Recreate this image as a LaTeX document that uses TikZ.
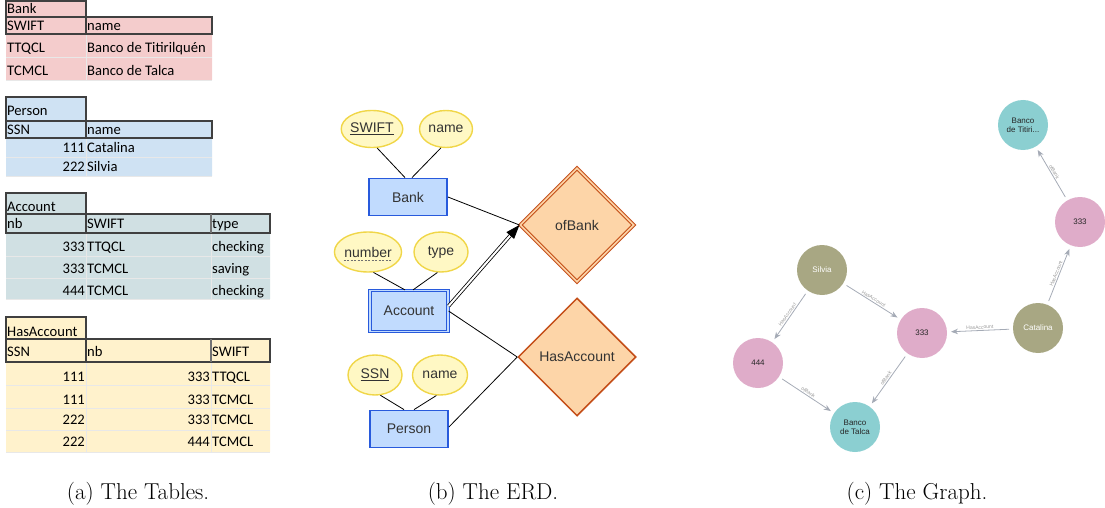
\documentclass[tikz,border=0pt]{standalone}
\usepackage{fontspec}
\usetikzlibrary{shapes.geometric,arrows.meta}
\newfontfamily\tabfont{Carlito}
\newfontfamily\erdfont{Liberation Sans}
\definecolor{bankfill}{RGB}{244,204,204}
\definecolor{personfill}{RGB}{207,226,243}
\definecolor{accfill}{RGB}{208,224,227}
\definecolor{hasfill}{RGB}{255,242,204}
\definecolor{ellfill}{RGB}{255,248,196}
\definecolor{elldraw}{RGB}{240,214,72}
\definecolor{entfill}{RGB}{193,219,254}
\definecolor{entdraw}{RGB}{40,90,220}
\definecolor{relfill}{RGB}{253,213,168}
\definecolor{reldraw}{RGB}{196,78,24}
\definecolor{darktext}{RGB}{51,51,51}
\definecolor{gteal}{RGB}{139,207,209}
\definecolor{gpink}{RGB}{223,172,201}
\definecolor{golive}{RGB}{168,167,131}
\definecolor{gedgecol}{RGB}{165,171,182}
\tikzset{
  tcell/.style={inner sep=0pt, text height=9.7pt, text depth=0pt, font=\tabfont\fontsize{14.6}{18}\selectfont},
  lcell/.style={tcell, anchor=west},
  rcell/.style={tcell, anchor=east},
  hdline/.style={draw=black!75, line width=1.2pt},
  gridline/.style={draw=white!82!gray, line width=0.8pt},
  attr/.style={ellipse, draw=elldraw, fill=ellfill, line width=1.4pt, inner sep=0pt, text=darktext, font=\erdfont\fontsize{14}{16}\selectfont},
  entity/.style={rectangle, draw=entdraw, fill=entfill, line width=1.8pt, minimum width=78pt, minimum height=37pt, text=darktext, font=\erdfont\fontsize{14}{16}\selectfont},
  rel/.style={diamond, draw=reldraw, fill=relfill, inner sep=0pt, text=darktext, font=\erdfont\fontsize{14}{16}\selectfont},
  erline/.style={line width=0.8pt},
  gnode/.style={circle, minimum size=50pt, inner sep=0pt, outer sep=4pt, align=center, text=black!85, font=\erdfont\fontsize{8}{9}\selectfont},
  gedge/.style={draw=gedgecol, line width=0.8pt, -{Stealth[length=7pt,width=5.5pt]}},
  glabel/.style={sloped, above, inner sep=1pt, text=gray!80, font=\erdfont\fontsize{5}{6}\selectfont},
  caption/.style={anchor=base, font=\fontsize{23}{27}\selectfont}
}
\begin{document}
\begin{tikzpicture}[x=1pt, y=-1pt]
  \useasboundingbox (0,0) rectangle (1105,508);

  \fill[bankfill] (6,1) rectangle (86,17) (6,17) rectangle (212,80);
  \draw[gridline] (6,57) -- (212,57) (6,80) -- (212,80) (86,34) -- (86,80);
  \draw[hdline] (6,17) -- (6,1) -- (86,1) -- (86,34) (6,17) rectangle (212,34);
  \node[lcell] (bk-t) at (7,9) {Bank};
  \node[lcell] (bk-h1) at (7,26) {SWIFT};
  \node[lcell] (bk-h2) at (87,26) {name};
  \node[lcell] (bk-a1) at (7,48) {TTQCL};
  \node[lcell] (bk-a2) at (87,48) {Banco de Titirilquén};
  \node[lcell] (bk-b1) at (7,71) {TCMCL};
  \node[lcell] (bk-b2) at (87,71) {Banco de Talca};

  \fill[personfill] (6,97) rectangle (86,121) (6,121) rectangle (212,176);
  \draw[gridline] (6,157) -- (212,157) (6,176) -- (212,176) (86,138) -- (86,176);
  \draw[hdline] (6,121) -- (6,97) -- (86,97) -- (86,138) (6,121) rectangle (212,138);
  \node[lcell] (ps-t) at (7,111) {Person};
  \node[lcell] (ps-h1) at (7,130) {SSN};
  \node[lcell] (ps-h2) at (87,130) {name};
  \node[rcell] (ps-a1) at (85,148) {111};
  \node[lcell] (ps-a2) at (87,148) {Catalina};
  \node[rcell] (ps-b1) at (85,167) {222};
  \node[lcell] (ps-b2) at (87,167) {Silvia};

  \fill[accfill] (6,193) rectangle (86,214) (6,214) rectangle (270,299);
  \draw[gridline] (6,256) -- (270,256) (6,278) -- (270,278) (6,299) -- (270,299)
    (86,233) -- (86,299) (211,233) -- (211,299);
  \draw[hdline] (6,214) -- (6,193) -- (86,193) -- (86,233) (6,214) rectangle (270,233);
  \draw[hdline, draw=black!55] (211,214) -- (211,233);
  \node[lcell] (ac-t) at (7,207) {Account};
  \node[lcell] (ac-h1) at (7,224) {nb};
  \node[lcell] (ac-h2) at (87,224) {SWIFT};
  \node[lcell] (ac-h3) at (212,224) {type};
  \node[rcell] (ac-a1) at (85,247) {333};
  \node[lcell] (ac-a2) at (87,247) {TTQCL};
  \node[lcell] (ac-a3) at (212,247) {checking};
  \node[rcell] (ac-b1) at (85,269) {333};
  \node[lcell] (ac-b2) at (87,269) {TCMCL};
  \node[lcell] (ac-b3) at (212,269) {saving};
  \node[rcell] (ac-c1) at (85,291) {444};
  \node[lcell] (ac-c2) at (87,291) {TCMCL};
  \node[lcell] (ac-c3) at (212,291) {checking};

  \fill[hasfill] (6,317) rectangle (86,339) (6,339) rectangle (270,452);
  \draw[gridline] (6,385) -- (270,385) (6,408) -- (270,408) (6,430) -- (270,430) (6,452) -- (270,452)
    (86,362) -- (86,452) (211,362) -- (211,452);
  \draw[hdline] (6,339) -- (6,317) -- (86,317) -- (86,362) (6,339) rectangle (270,362);
  \draw[hdline, draw=black!55] (211,339) -- (211,362);
  \node[lcell] (ha-t) at (7,332) {HasAccount};
  \node[lcell] (ha-h1) at (7,352) {SSN};
  \node[lcell] (ha-h2) at (87,352) {nb};
  \node[lcell] (ha-h3) at (212,352) {SWIFT};
  \node[rcell] (ha-a1) at (85,377) {111};
  \node[rcell] (ha-a2) at (210,377) {333};
  \node[lcell] (ha-a3) at (212,377) {TTQCL};
  \node[rcell] (ha-b1) at (85,400) {111};
  \node[rcell] (ha-b2) at (210,400) {333};
  \node[lcell] (ha-b3) at (212,400) {TCMCL};
  \node[rcell] (ha-c1) at (85,420) {222};
  \node[rcell] (ha-c2) at (210,420) {333};
  \node[lcell] (ha-c3) at (212,420) {TCMCL};
  \node[rcell] (ha-d1) at (85,442) {222};
  \node[rcell] (ha-d2) at (210,442) {444};
  \node[lcell] (ha-d3) at (212,442) {TCMCL};

  \node[attr, minimum width=60pt, minimum height=37pt] (swift) at (372,129) {\underline{SWIFT}};
  \node[attr, minimum width=53pt, minimum height=37pt] (bname) at (446,129) {name};
  \node[entity] (bank) at (408,197) {Bank};
  \node[attr, minimum width=67pt, minimum height=40pt] (number) at (368,252) {number};
  \node[attr, minimum width=54pt, minimum height=40pt] (type) at (441,252) {type};
  \node[entity, line width=1.2pt, double=entfill, double distance=1.5pt, minimum height=41pt] (account) at (409,311) {Account};
  \node[attr, minimum width=54pt, minimum height=40pt] (ssn) at (375,375) {\underline{SSN}};
  \node[attr, minimum width=55pt, minimum height=40pt] (pname) at (440,375) {name};
  \node[entity] (person) at (409,429) {Person};
  \node[rel, line width=1.1pt, double=relfill, double distance=1.6pt, minimum size=114pt] (ofbank) at (577,225) {ofBank};
  \node[rel, line width=1.5pt, minimum size=118pt] (hasacc) at (577,357) {HasAccount};
  \draw[darktext!70, line width=0.7pt, dash pattern=on 2pt off 1.5pt] ([xshift=-24.5pt,yshift=-8pt]number.center) -- ([xshift=24.5pt,yshift=-8pt]number.center);

  \draw[erline] (swift.-75) -- ([xshift=-3pt]bank.north);
  \draw[erline] (bname.-105) -- ([xshift=4pt]bank.north);
  \draw[erline] (number.-75) -- ([xshift=-4pt]account.north);
  \draw[erline] (type.-100) -- ([xshift=4pt]account.north);
  \draw[erline] (ssn.-75) -- ([xshift=-5pt]person.north);
  \draw[erline] (pname.-100) -- ([xshift=5pt]person.north);
  \draw[erline] (bank.east) -- (ofbank.west);
  \draw[erline, double, double distance=2pt, -{Triangle[length=14pt,width=10pt]}] ([yshift=5pt]account.east) -- (ofbank.west);
  \draw[erline] (account.east) -- (hasacc.west);
  \draw[erline] ([yshift=2pt]person.east) -- (hasacc.west);

  \node[gnode, fill=gteal] (ttq) at (1023,125) {Banco\\de Titiri...};
  \node[gnode, fill=gpink] (acc1) at (1080,222) {333};
  \node[gnode, fill=golive, text=white] (silvia) at (822,270) {Silvia};
  \node[gnode, fill=gpink] (acc2) at (922,333) {333};
  \node[gnode, fill=golive, text=white] (catalina) at (1038,328) {Catalina};
  \node[gnode, fill=gpink] (acc3) at (758,363) {444};
  \node[gnode, fill=gteal] (tca) at (855,427) {Banco\\de Talca};

  \draw[gedge] (acc1) -- node[glabel] {ofBank} (ttq);
  \draw[gedge] (catalina) -- node[glabel] {HasAccount} (acc1);
  \draw[gedge] (silvia) -- node[glabel] {HasAccount} (acc2);
  \draw[gedge] (silvia) -- node[glabel] {HasAccount} (acc3);
  \draw[gedge] (catalina) -- node[glabel] {HasAccount} (acc2);
  \draw[gedge] (acc3) -- node[glabel] {ofBank} (tca);
  \draw[gedge] (acc2) -- node[glabel] {ofBank} (tca);

  \node[caption] (capa) at (138,499) {(a) The Tables.};
  \node[caption] (capb) at (493,499) {(b) The ERD.};
  \node[caption] (capc) at (917,499) {(c) The Graph.};
\end{tikzpicture}
\end{document}
